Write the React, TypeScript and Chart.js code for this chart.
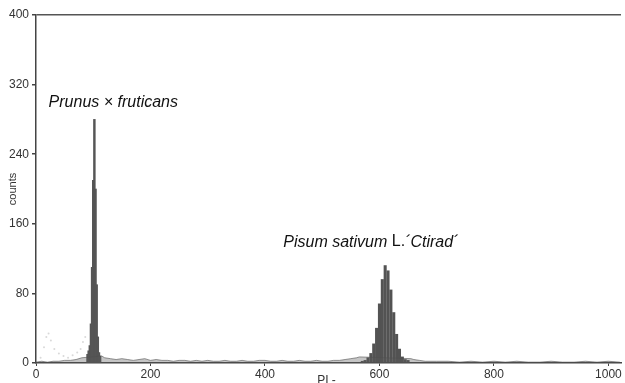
import React, { useEffect, useRef } from "react";
import { Chart, registerables } from "chart.js";
Chart.register(...registerables);

// ---- data ----
const prunusChannels = [90, 92, 94, 96, 98, 100, 102, 104, 106, 108, 110, 112];
const prunusCounts = [10, 14, 20, 45, 110, 210, 280, 200, 90, 30, 12, 8];

const pisumChannels = [570, 575, 580, 585, 590, 595, 600, 605, 610, 615, 620, 625, 630, 635, 640, 645, 650];
const pisumCounts = [2, 3, 6, 11, 22, 40, 68, 96, 112, 106, 84, 58, 33, 16, 7, 4, 3];

const noiseChannels = [
  0, 10, 20, 30, 40, 50, 60, 70, 80, 115, 120, 130, 140, 150, 160, 170, 180, 190, 200,
  210, 220, 230, 240, 250, 260, 270, 280, 290, 300, 310, 320, 330, 340, 350, 360, 370,
  380, 390, 400, 410, 420, 430, 440, 450, 460, 470, 480, 490, 500, 510, 520, 530, 540,
  550, 560, 565, 655, 660, 670, 680, 690, 700, 720, 740, 760, 780, 800, 820, 840, 860,
  880, 900, 920, 940, 960, 980, 1000, 1020,
];
const noiseCounts = [
  1, 2, 1, 2, 2, 3, 3, 4, 6, 8, 6, 5, 4, 5, 4, 3, 4, 5, 3,
  4, 3, 3, 2, 3, 3, 2, 3, 2, 3, 2, 2, 3, 2, 2, 3, 2,
  2, 3, 3, 2, 2, 3, 2, 2, 3, 2, 2, 3, 2, 2, 3, 3, 4,
  5, 6, 7, 5, 4, 3, 2, 2, 2, 2, 1, 2, 1, 2, 1, 2, 1,
  1, 2, 1, 1, 2, 1, 2, 1,
];

const debrisChannels = [8, 14, 18, 22, 26, 32, 40, 48, 56, 64, 72, 78, 82, 86];
const debrisCounts = [6, 18, 30, 34, 26, 16, 11, 8, 6, 9, 12, 16, 24, 30];

const xTicks = [0, 200, 400, 600, 800, 1000];
const yTicks = [0, 80, 160, 240, 320, 400];
const xTitle = "PI -";
const yTitle = "counts";

const labels = [
  { x: 22, y: 299, parts: [{ text: "Prunus × fruticans", italic: true }] },
  {
    x: 432,
    y: 139,
    parts: [
      { text: "Pisum sativum ", italic: true },
      { text: "L.", italic: false },
      { text: "´Ctirad´", italic: true },
    ],
  },
];

const FONT = '"Liberation Sans", Arial, sans-serif';

const annotate = {
  id: "annotate",
  afterDatasetsDraw(chart: any) {
    const { ctx, scales, chartArea } = chart;
    const x = scales.x;
    const y = scales.y;
    ctx.save();
    ctx.fillStyle = "#111";
    ctx.textBaseline = "middle";
    ctx.textAlign = "left";
    labels.forEach((l) => {
      let px = x.getPixelForValue(l.x);
      const py = y.getPixelForValue(l.y);
      l.parts.forEach((p) => {
        ctx.font = `${p.italic ? "italic " : ""}16px ${FONT}`;
        ctx.fillText(p.text, px, py);
        px += ctx.measureText(p.text).width;
      });
    });
    ctx.font = `12px ${FONT}`;
    ctx.fillStyle = "#333";
    ctx.textAlign = "center";
    ctx.textBaseline = "top";
    ctx.fillText(xTitle, (chartArea.left + chartArea.right) / 2 - 2, x.top + 12);
    ctx.restore();
  },
};

export default function App() {
  const ref = useRef<HTMLCanvasElement>(null);
  useEffect(() => {
    if (!ref.current) return;
    const chart = new Chart(ref.current, {
      type: "bar",
      data: {
        datasets: [
          {
            type: "scatter",
            data: debrisChannels.map((c, i) => ({ x: c, y: debrisCounts[i] })),
            backgroundColor: "rgba(170,170,170,0.45)",
            borderWidth: 0,
            pointRadius: 1,
          } as any,
          {
            type: "line",
            data: noiseChannels.map((c, i) => ({ x: c, y: noiseCounts[i] })),
            borderColor: "rgba(80,80,80,0.6)",
            backgroundColor: "rgba(90,90,90,0.35)",
            fill: "origin",
            borderWidth: 1,
            pointRadius: 0,
            tension: 0,
          } as any,
          {
            data: prunusChannels.map((c, i) => ({ x: c, y: prunusCounts[i] })),
            backgroundColor: "#555555",
            barThickness: 1.8,
            grouped: false,
          } as any,
          {
            data: pisumChannels.map((c, i) => ({ x: c, y: pisumCounts[i] })),
            backgroundColor: "#535353",
            barThickness: 2.4,
            grouped: false,
          } as any,
        ],
      },
      options: {
        animation: false,
        responsive: false,
        layout: { padding: { top: 15, right: 0, left: 0, bottom: 0 } },
        plugins: { legend: { display: false }, tooltip: { enabled: false } },
        scales: {
          x: {
            type: "linear",
            min: 0,
            max: 1022,
            offset: false,
            afterBuildTicks: (s: any) => {
              s.ticks = xTicks.map((v) => ({ value: v }));
            },
            afterFit: (s: any) => {
              s.height = 20;
            },
            ticks: {
              color: "#333",
              font: { family: FONT, size: 12 },
              padding: 1,
              maxRotation: 0,
              autoSkip: false,
              callback: (v: any) => String(v),
            },
            grid: {
              offset: false,
              drawOnChartArea: false,
              drawTicks: true,
              tickLength: 3,
              color: "#444",
            },
            border: { display: true, color: "#444", width: 1.5 },
          },
          y: {
            type: "linear",
            min: 0,
            max: 400,
            afterBuildTicks: (s: any) => {
              s.ticks = yTicks.map((v) => ({ value: v }));
            },
            afterFit: (s: any) => {
              s.width = 36;
            },
            ticks: {
              color: "#333",
              font: { family: FONT, size: 12 },
              padding: 3,
              autoSkip: false,
              callback: (v: any) => String(v),
            },
            grid: {
              drawOnChartArea: true,
              color: (c: any) => (c.tick && c.tick.value === 400 ? "#555" : "rgba(0,0,0,0)"),
              tickColor: "#444",
              tickLength: 4,
              lineWidth: 1.5,
            },
            border: { display: true, color: "#444", width: 1.5 },
            title: {
              display: true,
              text: yTitle,
              color: "#333",
              font: { family: FONT, size: 11 },
              padding: { top: 6, bottom: 2 },
            },
          },
        },
      },
      plugins: [annotate],
    } as any);
    return () => chart.destroy();
  }, []);
  return (
    <div style={{ position: "fixed", left: 0, top: 0, width: 625, height: 383, background: "#fff" }}>
      <canvas ref={ref} width={625} height={383} style={{ display: "block" }} />
    </div>
  );
}
